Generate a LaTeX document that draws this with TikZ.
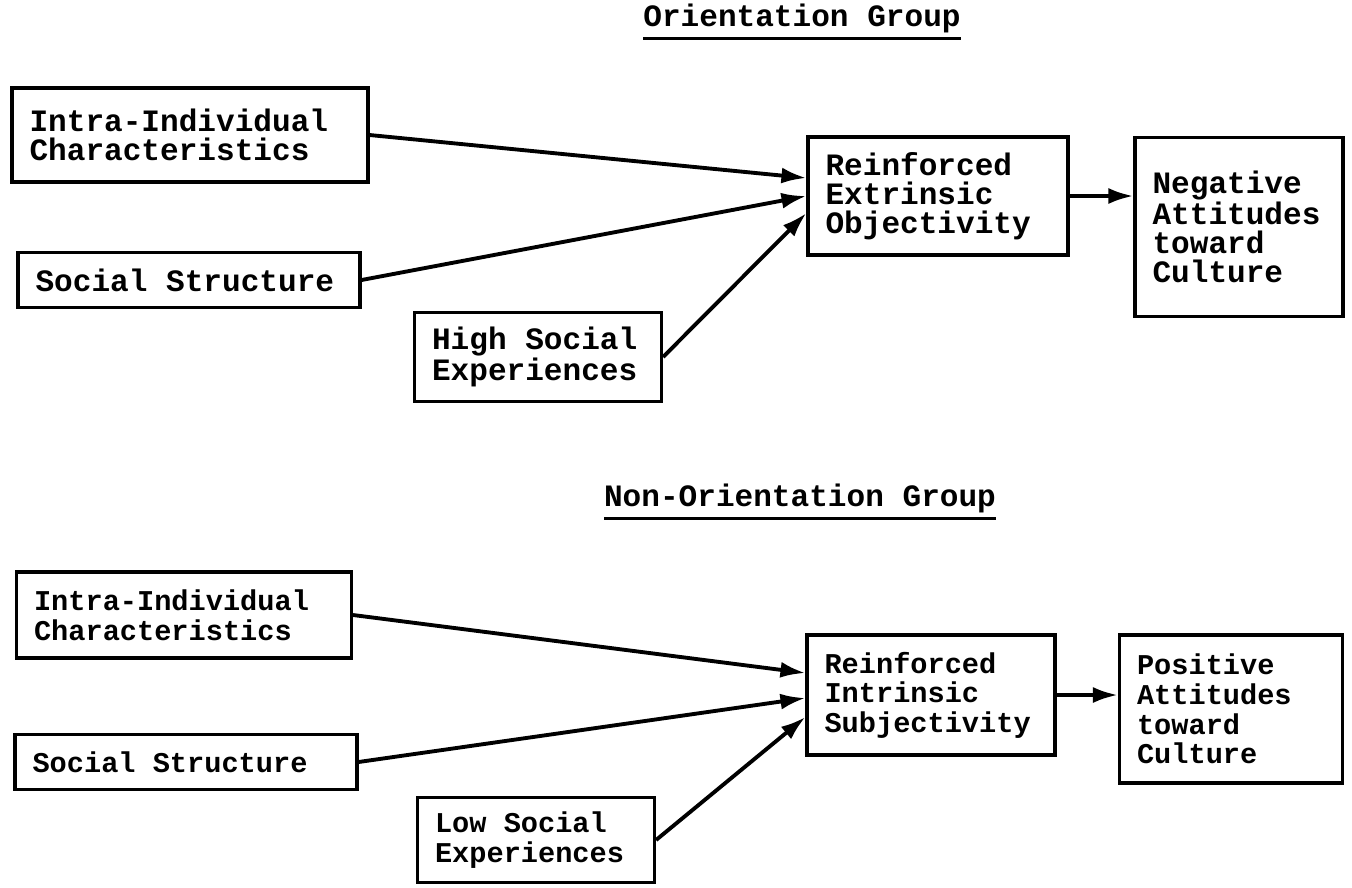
\documentclass[tikz,border=0pt]{standalone}
\usepackage{fontspec}
\setmonofont{Liberation Mono}
\newcommand{\thickul}[1]{\vtop{\hbox{#1}\kern2pt\hrule height 1.8pt}}
\usetikzlibrary{arrows.meta}

\begin{document}
\begin{tikzpicture}[x=0.02cm,y=-0.02cm,
blk/.style={draw, line width=1.8pt, inner xsep=0.35cm, inner ysep=0pt, align=flush left},
up/.style={font=\ttfamily\bfseries\fontsize{17.7}{16.5}\selectfont},
lo/.style={font=\ttfamily\bfseries\fontsize{16.3}{16.8}\selectfont},
arr/.style={-{Latex[length=0.5cm,width=0.32cm]}, line width=2.2pt}]
\useasboundingbox (0,0) rectangle (1352,887);
% orientation group
\node[up] (t1) at (802,22) {\thickul{Orientation Group}};
\node[blk,up,text width=6.42cm,minimum height=1.88cm] (i1) at (190,135) {Intra-Individual\\Characteristics};
\node[blk,up,text width=6.14cm,minimum height=1.1cm] (s1) at (189,280) {Social Structure};
\node[blk,up,text width=4.24cm,minimum height=1.78cm] (h1) at (538,357) {High Social\\Experiences};
\node[blk,up,text width=4.5cm,minimum height=2.36cm] (r1) at (938,196) {Reinforced\\Extrinsic\\Objectivity};
\node[blk,up,text width=3.46cm,minimum height=3.58cm] (n1) at (1239,227) {Negative\\Attitudes\\toward\\Culture};
\draw[arr] (i1.east) -- ([yshift=0.36cm]r1.west);
\draw[arr] (s1.east) -- (r1.west);
\draw[arr] (h1.east) -- ([yshift=-0.34cm]r1.west);
\draw[arr] (r1.east) -- (r1.east -| n1.west);
% non-orientation group
\node[up] (t2) at (800,502) {\thickul{Non-Orientation Group}};
\node[blk,lo,text width=6.0cm,minimum height=1.72cm] (i2) at (184,615) {Intra-Individual\\Characteristics};
\node[blk,lo,text width=6.14cm,minimum height=1.1cm] (s2) at (186,762) {Social Structure};
\node[blk,lo,text width=4.04cm,minimum height=1.7cm] (l2) at (536,840) {Low Social\\Experiences};
\node[blk,lo,text width=4.26cm,minimum height=2.4cm] (r2) at (931,695) {Reinforced\\Intrinsic\\Subjectivity};
\node[blk,lo,text width=3.76cm,minimum height=2.96cm] (p2) at (1231,709) {Positive\\Attitudes\\toward\\Culture};
\draw[arr] (i2.east) -- ([yshift=0.44cm]r2.west);
\draw[arr] (s2.east) -- ([yshift=-0.06cm]r2.west);
\draw[arr] (l2.east) -- ([yshift=-0.44cm]r2.west);
\draw[arr] (r2.east) -- (r2.east -| p2.west);
\end{tikzpicture}
\end{document}
